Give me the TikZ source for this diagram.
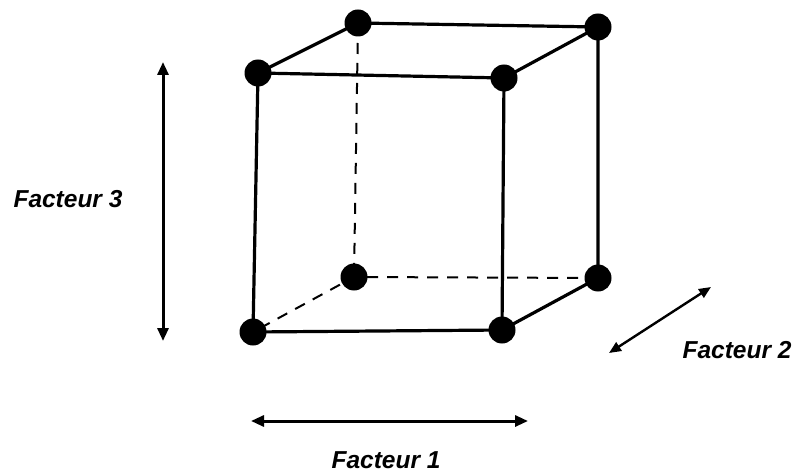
\documentclass[tikz,border=0pt]{standalone}
\usepackage{fontspec}
\setmainfont{Liberation Sans}
\usetikzlibrary{arrows.meta}
\tikzset{
  vertex/.style={circle,fill=black,inner sep=0pt,minimum size=27pt},
  edge/.style={line width=3.2pt},
  hidden/.style={line width=2pt,dash pattern=on 11pt off 9pt},
  axis/.style={line width=3pt,{Triangle[length=13pt,width=11pt]}-{Triangle[length=13pt,width=11pt]}},
  axisb/.style={line width=2.4pt,{Triangle[length=12pt,width=10pt]}-{Triangle[length=12pt,width=10pt]}},
  lab/.style={font=\fontsize{24.5}{29}\selectfont\bfseries\itshape,inner sep=0pt}
}
\begin{document}
\begin{tikzpicture}[x=1pt,y=-1pt]
\useasboundingbox (0,0) rectangle (797,473);
\coordinate (ftl) at (258,73);
\coordinate (ftr) at (504,78);
\coordinate (fbl) at (253,332);
\coordinate (fbr) at (502,330);
\coordinate (btl) at (358,23);
\coordinate (btr) at (598,27);
\coordinate (bbl) at (354,277);
\coordinate (bbr) at (598,278);
% hidden edges
\draw[hidden] (btl) -- (bbl);
\draw[hidden] (bbr) -- (bbl) -- (fbl);
% visible edges
\draw[edge] (ftl) -- (ftr) -- (fbr) -- (fbl) -- cycle;
\draw[edge] (ftl) -- (btl) -- (btr) -- (ftr);
\draw[edge] (btr) -- (bbr) -- (fbr);
\foreach \v in {ftl,ftr,fbl,fbr,btl,btr,bbl,bbr}
  \node[vertex] (n\v) at (\v) {};
% axes
\coordinate (a3t) at (163,62);
\coordinate (a3b) at (163,341);
\draw[axis] (a3t) -- (a3b);
\coordinate (a1l) at (251,421);
\coordinate (a1r) at (528,421);
\draw[axis] (a1l) -- (a1r);
\coordinate (a2l) at (609,353);
\coordinate (a2r) at (711,287);
\draw[axisb] (a2l) -- (a2r);
\node[lab] (f3) at (68,199) {Facteur 3};
\node[lab] (f2) at (737,350) {Facteur 2};
\node[lab] (f1) at (386,460) {Facteur 1};
\end{tikzpicture}
\end{document}
